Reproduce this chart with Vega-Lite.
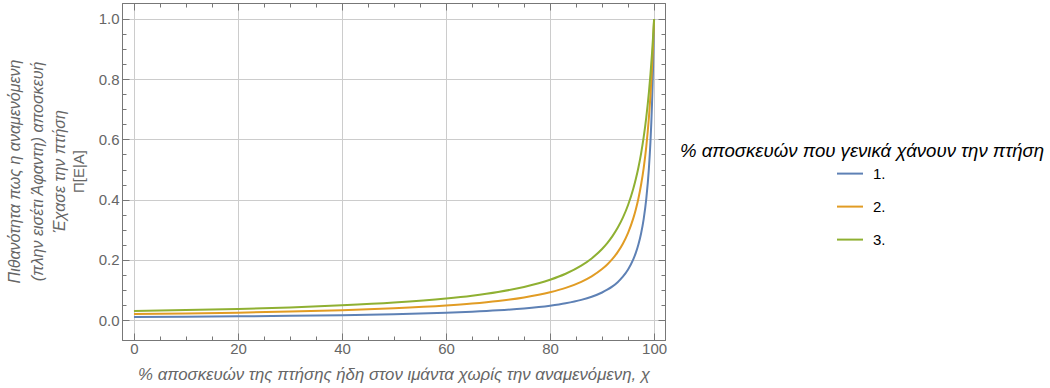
{
  "$schema": "https://vega.github.io/schema/vega-lite/v6.json",
  "width": 543,
  "height": 337,
  "autosize": "none",
  "padding": {"left": 122, "top": 3, "right": 385, "bottom": 48},
  "background": "white",
  "config": {
    "view": {"stroke": "#777777", "strokeWidth": 1},
    "font": "Liberation Sans"
  },
  "title": {
    "text": ["Πιθανότητα πως η αναμενόμενη", "(πλην εισέτι Άφαντη) αποσκευή", "Έχασε την πτήση"],
    "orient": "left",
    "anchor": "middle",
    "font": "Liberation Sans",
    "fontSize": 16,
    "fontStyle": "italic",
    "fontWeight": "normal",
    "color": "#666666",
    "lineHeight": 22.5,
    "offset": 3
  },
  "data": {
    "values": [
      {"x": 0, "s": "1.", "y": 0.01}, {"x": 10, "s": "1.", "y": 0.0111}, {"x": 20, "s": "1.", "y": 0.01247}, {"x": 30, "s": "1.", "y": 0.01422}, {"x": 40, "s": "1.", "y": 0.01656}, {"x": 50, "s": "1.", "y": 0.0198}, {"x": 60, "s": "1.", "y": 0.02463}, {"x": 65, "s": "1.", "y": 0.02805}, {"x": 70, "s": "1.", "y": 0.03257}, {"x": 75, "s": "1.", "y": 0.03883}, {"x": 80, "s": "1.", "y": 0.04808}, {"x": 83, "s": "1.", "y": 0.05609}, {"x": 86, "s": "1.", "y": 0.06729}, {"x": 88, "s": "1.", "y": 0.07764}, {"x": 90, "s": "1.", "y": 0.09174}, {"x": 91, "s": "1.", "y": 0.10091}, {"x": 92, "s": "1.", "y": 0.11211}, {"x": 93, "s": "1.", "y": 0.1261}, {"x": 94, "s": "1.", "y": 0.1441}, {"x": 95, "s": "1.", "y": 0.1681}, {"x": 96, "s": "1.", "y": 0.2016}, {"x": 96.5, "s": "1.", "y": 0.224}, {"x": 97, "s": "1.", "y": 0.2519}, {"x": 97.5, "s": "1.", "y": 0.2878}, {"x": 98, "s": "1.", "y": 0.3356}, {"x": 98.5, "s": "1.", "y": 0.4024}, {"x": 99, "s": "1.", "y": 0.5025}, {"x": 99.3, "s": "1.", "y": 0.5907}, {"x": 99.6, "s": "1.", "y": 0.7163}, {"x": 99.8, "s": "1.", "y": 0.8347}, {"x": 99.9, "s": "1.", "y": 0.9099}, {"x": 100, "s": "1.", "y": 1.0},
      {"x": 0, "s": "2.", "y": 0.02}, {"x": 10, "s": "2.", "y": 0.02217}, {"x": 20, "s": "2.", "y": 0.02488}, {"x": 30, "s": "2.", "y": 0.02833}, {"x": 40, "s": "2.", "y": 0.03289}, {"x": 50, "s": "2.", "y": 0.03922}, {"x": 60, "s": "2.", "y": 0.04854}, {"x": 65, "s": "2.", "y": 0.0551}, {"x": 70, "s": "2.", "y": 0.06369}, {"x": 75, "s": "2.", "y": 0.07547}, {"x": 80, "s": "2.", "y": 0.09259}, {"x": 83, "s": "2.", "y": 0.10718}, {"x": 86, "s": "2.", "y": 0.12723}, {"x": 88, "s": "2.", "y": 0.14535}, {"x": 90, "s": "2.", "y": 0.16949}, {"x": 91, "s": "2.", "y": 0.18484}, {"x": 92, "s": "2.", "y": 0.20325}, {"x": 93, "s": "2.", "y": 0.22573}, {"x": 94, "s": "2.", "y": 0.25381}, {"x": 95, "s": "2.", "y": 0.28986}, {"x": 96, "s": "2.", "y": 0.33784}, {"x": 96.5, "s": "2.", "y": 0.36832}, {"x": 97, "s": "2.", "y": 0.40486}, {"x": 97.5, "s": "2.", "y": 0.44944}, {"x": 98, "s": "2.", "y": 0.50505}, {"x": 98.5, "s": "2.", "y": 0.57637}, {"x": 99, "s": "2.", "y": 0.67114}, {"x": 99.3, "s": "2.", "y": 0.7446}, {"x": 99.6, "s": "2.", "y": 0.83612}, {"x": 99.8, "s": "2.", "y": 0.91075}, {"x": 99.9, "s": "2.", "y": 0.9533}, {"x": 100, "s": "2.", "y": 1.0},
      {"x": 0, "s": "3.", "y": 0.03}, {"x": 10, "s": "3.", "y": 0.03322}, {"x": 20, "s": "3.", "y": 0.03722}, {"x": 30, "s": "3.", "y": 0.04231}, {"x": 40, "s": "3.", "y": 0.04902}, {"x": 50, "s": "3.", "y": 0.05825}, {"x": 60, "s": "3.", "y": 0.07177}, {"x": 65, "s": "3.", "y": 0.08119}, {"x": 70, "s": "3.", "y": 0.09346}, {"x": 75, "s": "3.", "y": 0.11009}, {"x": 80, "s": "3.", "y": 0.13393}, {"x": 83, "s": "3.", "y": 0.15393}, {"x": 86, "s": "3.", "y": 0.18094}, {"x": 88, "s": "3.", "y": 0.20492}, {"x": 90, "s": "3.", "y": 0.23622}, {"x": 91, "s": "3.", "y": 0.25575}, {"x": 92, "s": "3.", "y": 0.27881}, {"x": 93, "s": "3.", "y": 0.30644}, {"x": 94, "s": "3.", "y": 0.34014}, {"x": 95, "s": "3.", "y": 0.38217}, {"x": 96, "s": "3.", "y": 0.43605}, {"x": 96.5, "s": "3.", "y": 0.46912}, {"x": 97, "s": "3.", "y": 0.50761}, {"x": 97.5, "s": "3.", "y": 0.553}, {"x": 98, "s": "3.", "y": 0.60729}, {"x": 98.5, "s": "3.", "y": 0.6734}, {"x": 99, "s": "3.", "y": 0.75567}, {"x": 99.3, "s": "3.", "y": 0.81544}, {"x": 99.6, "s": "3.", "y": 0.88548}, {"x": 99.8, "s": "3.", "y": 0.93926}, {"x": 99.9, "s": "3.", "y": 0.9687}, {"x": 100, "s": "3.", "y": 1.0}
    ]
  },
  "layer": [
    {
      "mark": {"type": "line", "strokeWidth": 2, "interpolate": "monotone"},
      "encoding": {
        "x": {
          "field": "x", "type": "quantitative",
          "scale": {"domain": [-2.3, 102.1], "nice": false, "zero": false},
          "title": "% αποσκευών της πτήσης ήδη στον ιμάντα χωρίς την αναμενόμενη, χ",
          "axis": {
            "orient": "bottom",
            "values": [0, 5, 10, 15, 20, 25, 30, 35, 40, 45, 50, 55, 60, 65, 70, 75, 80, 85, 90, 95, 100],
            "labelExpr": "datum.value % 20 == 0 ? datum.label : ''",
            "grid": true,
            "gridColor": "#cccccc",
            "gridOpacity": {"condition": {"test": "datum.value % 20 == 0", "value": 1}, "value": 0},
            "tickSize": {"condition": {"test": "datum.value % 20 == 0", "value": -7}, "value": -4},
            "tickColor": "#777777",
            "domainColor": "#777777",
            "labelColor": "#666666",
            "labelFont": "Liberation Sans",
            "labelFontSize": 15,
            "labelPadding": 8,
            "labelFlush": false,
            "titleFont": "Liberation Sans",
            "titleFontSize": 16.8,
            "titleFontStyle": "italic",
            "titleFontWeight": "normal",
            "titleColor": "#666666",
            "titlePadding": 10
          }
        },
        "y": {
          "field": "y", "type": "quantitative",
          "scale": {"domain": [-0.066, 1.053], "nice": false, "zero": false},
          "title": "Π[Ε|Α]",
          "axis": {
            "orient": "left",
            "values": [0, 0.05, 0.1, 0.15, 0.2, 0.25, 0.3, 0.35, 0.4, 0.45, 0.5, 0.55, 0.6, 0.65, 0.7, 0.75, 0.8, 0.85, 0.9, 0.95, 1.0],
            "format": ".1f",
            "labelExpr": "round(datum.value * 20) % 4 == 0 ? datum.label : ''",
            "grid": true,
            "gridColor": "#cccccc",
            "gridOpacity": {"condition": {"test": "round(datum.value * 20) % 4 == 0", "value": 1}, "value": 0},
            "tickSize": {"condition": {"test": "round(datum.value * 20) % 4 == 0", "value": -7}, "value": -4},
            "tickColor": "#777777",
            "domainColor": "#777777",
            "labelColor": "#666666",
            "labelFont": "Liberation Sans",
            "labelFontSize": 15,
            "labelPadding": 10,
            "labelFlush": false,
            "titleFont": "Liberation Sans",
            "titleFontSize": 15,
            "titleFontStyle": "normal",
            "titleFontWeight": "normal",
            "titleColor": "#666666",
            "titleX": -44,
            "titleY": 168,
            "titleAngle": 270,
            "titleAlign": "center",
            "titleBaseline": "middle"
          }
        },
        "color": {
          "field": "s", "type": "nominal",
          "scale": {"domain": ["1.", "2.", "3."], "range": ["#5e81b5", "#e19c24", "#8fb032"]},
          "legend": {
            "title": "% αποσκευών που γενικά χάνουν την πτήση",
            "orient": "none",
            "legendX": 558,
            "legendY": 139,
            "padding": 0,
            "titleFont": "Liberation Sans",
            "titleFontSize": 18.6,
            "titleFontStyle": "italic",
            "titleFontWeight": "normal",
            "titleColor": "#000000",
            "titleLimit": 800,
            "titlePadding": -1,
            "labelFont": "Liberation Sans",
            "labelFontSize": 15,
            "labelColor": "#000000",
            "labelOffset": 9,
            "symbolType": "stroke",
            "symbolSize": 676,
            "symbolStrokeWidth": 2,
            "symbolOffset": 156,
            "rowPadding": 11
          }
        }
      }
    },
    {
      "mark": {"type": "point", "opacity": 0},
      "encoding": {
        "x": {
          "field": "x", "type": "quantitative",
          "axis": {
            "orient": "top",
            "values": [0, 5, 10, 15, 20, 25, 30, 35, 40, 45, 50, 55, 60, 65, 70, 75, 80, 85, 90, 95, 100],
            "labels": false,
            "grid": false,
            "title": null,
            "tickSize": {"condition": {"test": "datum.value % 20 == 0", "value": -7}, "value": -4},
            "tickColor": "#777777",
            "domainColor": "#777777"
          }
        },
        "y": {
          "field": "y", "type": "quantitative",
          "axis": {
            "orient": "right",
            "values": [0, 0.05, 0.1, 0.15, 0.2, 0.25, 0.3, 0.35, 0.4, 0.45, 0.5, 0.55, 0.6, 0.65, 0.7, 0.75, 0.8, 0.85, 0.9, 0.95, 1.0],
            "labels": false,
            "grid": false,
            "title": null,
            "tickSize": {"condition": {"test": "round(datum.value * 20) % 4 == 0", "value": -7}, "value": -4},
            "tickColor": "#777777",
            "domainColor": "#777777"
          }
        }
      }
    }
  ]
}
